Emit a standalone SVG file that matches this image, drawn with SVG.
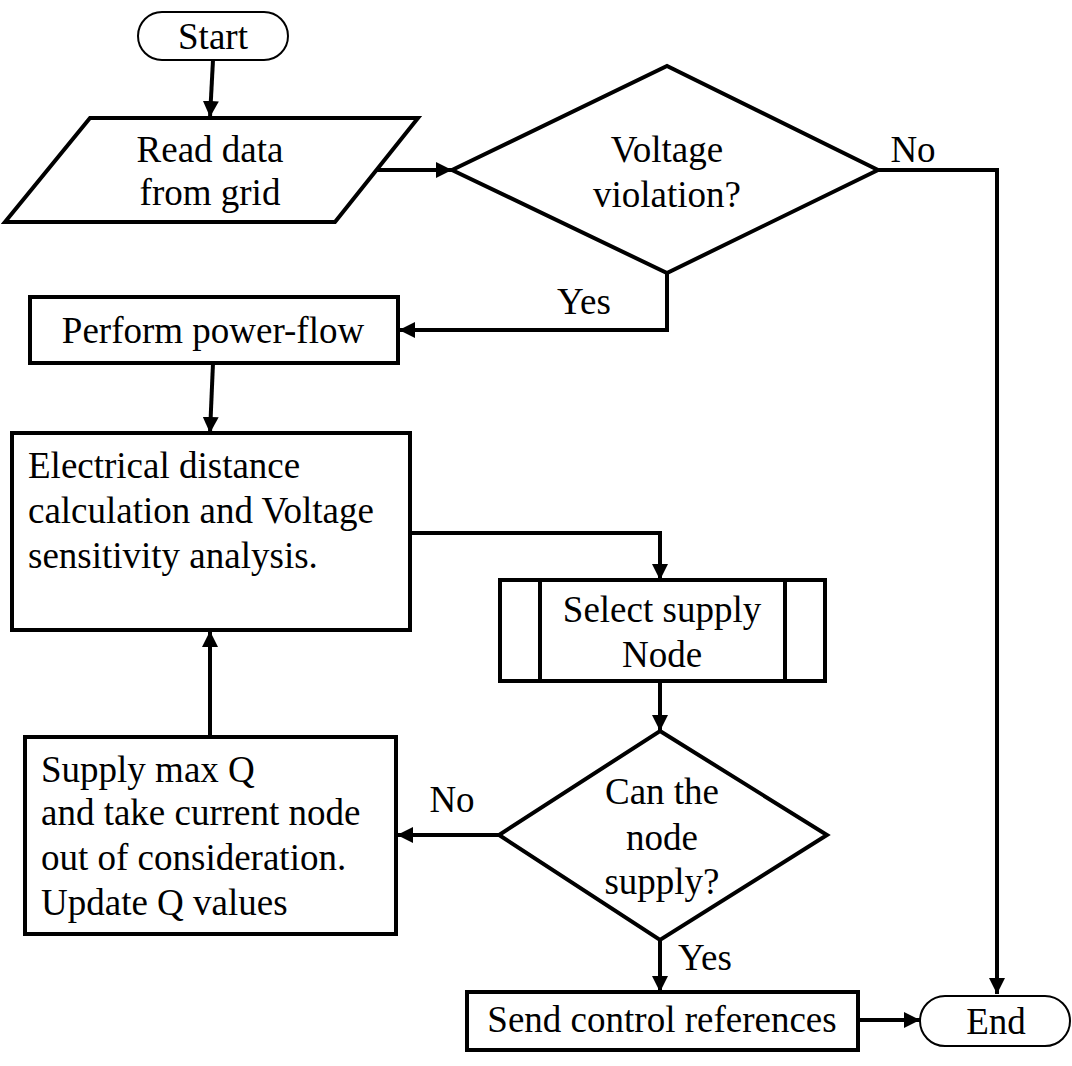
<svg xmlns="http://www.w3.org/2000/svg" width="1072" height="1066" viewBox="0 0 1072 1066">
<style>
.n{fill:#fff;stroke:#000;stroke-width:4}
.t{fill:#fff;stroke:#000;stroke-width:2}
.c{fill:none;stroke:#000;stroke-width:4}
text{font-family:"Liberation Serif","Times New Roman",serif;font-size:37px;fill:#000}
.m{text-anchor:middle}
</style>
<defs>
<marker id="ah" viewBox="0 0 10 10" refX="10" refY="5" markerWidth="4" markerHeight="4" markerUnits="strokeWidth" orient="auto">
<path d="M0,0 L10,5 L0,10 z" fill="#000"/>
</marker>
</defs>
<rect width="1072" height="1066" fill="#fff"/>
<g id="connectors">
<line class="c" x1="213" y1="60" x2="210" y2="117" marker-end="url(#ah)"/>
<line class="c" x1="377" y1="170" x2="452" y2="170" marker-end="url(#ah)"/>
<polyline class="c" points="878,170 997,170 997,994" marker-end="url(#ah)"/>
<polyline class="c" points="667,273 667,330 399,330" marker-end="url(#ah)"/>
<line class="c" x1="213" y1="363" x2="210" y2="433" marker-end="url(#ah)"/>
<polyline class="c" points="410,533 660,533 660,580" marker-end="url(#ah)"/>
<line class="c" x1="660" y1="681" x2="660" y2="731" marker-end="url(#ah)"/>
<line class="c" x1="499" y1="835" x2="397" y2="835" marker-end="url(#ah)"/>
<line class="c" x1="210" y1="737" x2="210" y2="631" marker-end="url(#ah)"/>
<line class="c" x1="660" y1="940" x2="660" y2="992" marker-end="url(#ah)"/>
<line class="c" x1="858" y1="1020" x2="920" y2="1020" marker-end="url(#ah)"/>
<text class="m" x="913" y="162">No</text>
<text class="m" x="584" y="314">Yes</text>
<text class="m" x="452" y="812">No</text>
<text class="m" x="705" y="970">Yes</text>
</g>
<g id="start">
<rect class="t" x="138" y="12" width="150" height="48" rx="24"/>
<text class="m" x="213" y="49">Start</text>
</g>
<g id="read">
<polygon class="n" points="90,118 418,118 335,222 5,222"/>
<text class="m" x="210" y="162">Read data</text>
<text class="m" x="210" y="205">from grid</text>
</g>
<g id="violation">
<polygon class="n" points="452,170 667,66 878,170 667,273"/>
<text class="m" x="667" y="162">Voltage</text>
<text class="m" x="667" y="207">violation?</text>
</g>
<g id="powerflow">
<rect class="n" x="30" y="297" width="368" height="66"/>
<text class="m" x="213" y="343">Perform power-flow</text>
</g>
<g id="electrical">
<rect class="n" x="12" y="433" width="398" height="197"/>
<text x="28" y="478">Electrical distance</text>
<text x="28" y="523">calculation and Voltage</text>
<text x="28" y="568">sensitivity analysis.</text>
</g>
<g id="select">
<rect class="n" x="500" y="580" width="325" height="101"/>
<line class="c" x1="540" y1="580" x2="540" y2="681"/>
<line class="c" x1="785" y1="580" x2="785" y2="681"/>
<text class="m" x="662" y="622">Select supply</text>
<text class="m" x="662" y="667">Node</text>
</g>
<g id="cansupply">
<polygon class="n" points="660,731 827,835 660,940 499,835"/>
<text class="m" x="662" y="804">Can the</text>
<text class="m" x="662" y="850">node</text>
<text class="m" x="662" y="894">supply?</text>
</g>
<g id="supplymax">
<rect class="n" x="25" y="737" width="371" height="197"/>
<text x="41" y="782">Supply max Q</text>
<text x="41" y="825">and take current node</text>
<text x="41" y="870">out of consideration.</text>
<text x="41" y="915">Update Q values</text>
</g>
<g id="send">
<rect class="n" x="467" y="992" width="391" height="58"/>
<text class="m" x="662" y="1032">Send control references</text>
</g>
<g id="end">
<rect class="t" x="920" y="996" width="150" height="50" rx="25"/>
<text class="m" x="996" y="1034">End</text>
</g>
</svg>
